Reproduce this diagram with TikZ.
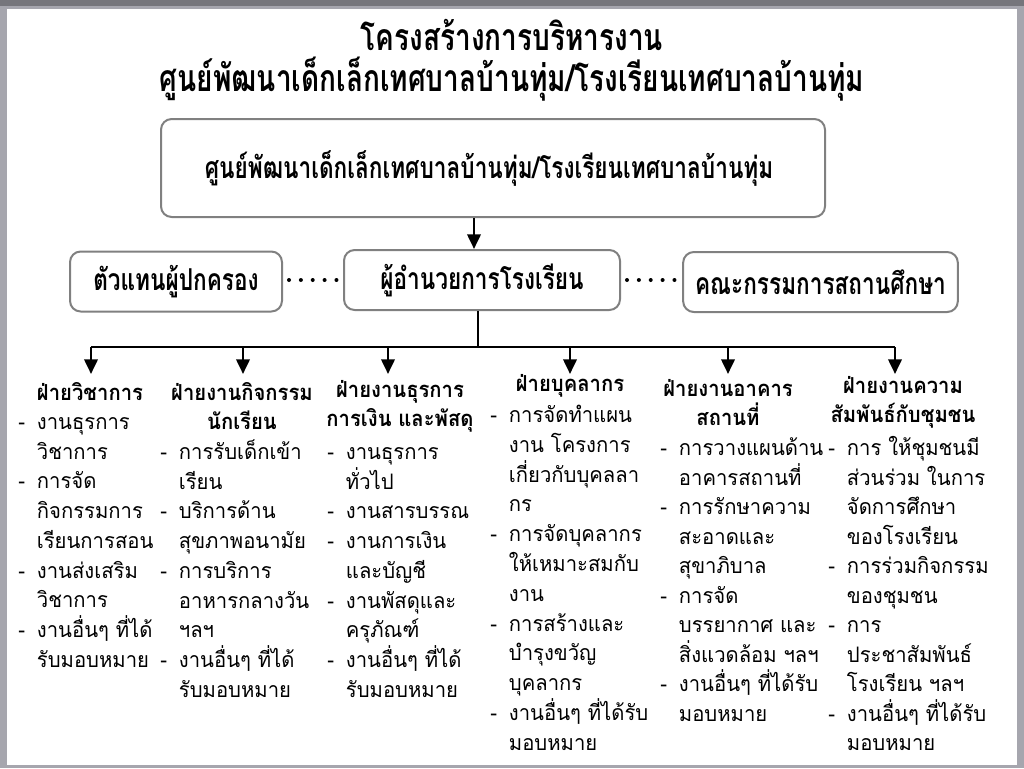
\documentclass[tikz,border=0pt]{standalone}
\usepackage{fontspec}
\usetikzlibrary{arrows.meta}
\newfontfamily\thaifont[Script=Thai,FakeStretch=0.95]{Loma}
\newfontfamily\thaihead[Script=Thai,FakeStretch=0.92]{Loma}
\newfontfamily\thaicond[Script=Thai,FakeStretch=0.75]{Loma}
\definecolor{framegray}{RGB}{166,166,174}
\definecolor{topgray}{RGB}{118,118,124}
\definecolor{boxgray}{RGB}{128,128,128}
\newcommand\dsh{\makebox[14pt][l]{-}}
\newcommand\ind{\hspace*{14pt}}
\begin{document}
\begin{tikzpicture}[x=0.75pt,y=-0.75pt,line join=round,>={Triangle[length=11pt,width=10pt]}]
	\tikzset{box/.style={draw=boxgray,line width=1.5pt,rounded corners=8pt,inner sep=0pt,font=\thaicond\bfseries\fontsize{22.6}{24}\selectfont},
		dots/.style={line width=3pt,line cap=round,dash pattern=on 0pt off 8.9pt},
		head/.style={align=center,inner sep=0pt,font=\thaihead\bfseries\fontsize{16.5}{21.75}\selectfont},
		item/.style={anchor=base west,inner sep=0pt,font=\thaifont\fontsize{16}{20}\selectfont}}
	% slide frame
	\fill[framegray] (0,0) rectangle (1024,768);
	\fill[topgray] (0,0) rectangle (1024,6);
	\fill[white] (7,9) rectangle (1017,765);
	\useasboundingbox (0,0) rectangle (1024,768);
	% title
	\node[align=center,font=\thaicond\bfseries\fontsize{28}{30.5}\selectfont] (title) at (512,60)
		{โครงสร้างการบริหารงาน\\ศูนย์พัฒนาเด็กเล็กเทศบาลบ้านทุ่ม/โรงเรียนเทศบาลบ้านทุ่ม};
	% boxes
	\node[box,minimum width=498pt,minimum height=73.5pt] (top) at (493,168)
		{\hspace*{-6pt}ศูนย์พัฒนาเด็กเล็กเทศบาลบ้านทุ่ม/โรงเรียนเทศบาลบ้านทุ่ม};
	\node[box,minimum width=159pt,minimum height=45pt] (parent) at (176,281.5) {ตัวแทนผู้ปกครอง};
	\node[box,minimum width=207pt,minimum height=45pt] (dir) at (482,280) {ผู้อำนวยการโรงเรียน};
	\node[box,minimum width=206pt,minimum height=45pt] (board) at (820.5,282) {คณะกรรมการสถานศึกษา};
	\draw[line width=2pt,->] ([xshift=-6pt]dir.north |- top.south) -- ([xshift=-6pt]dir.north);
	\draw[dots,shorten >=3pt] ([xshift=4.5pt]parent.east |- dir.west) -- (dir.west);
	\draw[dots,shorten >=2pt] ([xshift=4.5pt]dir.east) -- (board.west |- dir.east);
	% tree
	\draw[line width=2pt] ([xshift=-3pt]dir.south) -- ++(0,36) coordinate (bus);
	\foreach \x/\n in {91/1,243/2,388/3,570/4,728/5,895/6}
		\coordinate (a\n) at (\x,374);
	\draw[line width=2pt] (a1 |- bus) -- (a6 |- bus);
	\foreach \n in {1,...,6}
		\draw[line width=2pt,->] (a\n |- bus) -- (a\n);
	% headers
	\node[head] (h1) at (90,392) {ฝ่ายวิชาการ};
	\node[head] (h2) at (242,406.5) {ฝ่ายงานกิจกรรม\\นักเรียน};
	\node[head] (h3) at (400,406.5) {ฝ่ายงานธุรการ\\การเงิน และพัสดุ};
	\node[head] (h4) at (570,386) {ฝ่ายบุคลากร};
	\node[head] (h5) at (728,402.5) {ฝ่ายงานอาคาร\\สถานที่};
	\node[head] (h6) at (903,402.5) {ฝ่ายงานความ\\สัมพันธ์กับชุมชน};
	% lists
	\foreach \t [count=\i from 0] in {{\dsh งานธุรการ},{\ind วิชาการ},{\dsh การจัด},{\ind กิจกรรมการ},{\ind เรียนการสอน},{\dsh งานส่งเสริม},{\ind วิชาการ},{\dsh งานอื่นๆ ที่ได้},{\ind รับมอบหมาย}}
		\node[item] (c1-\i) at (18,429.5+29.7*\i) {\t};
	\foreach \t [count=\i from 0] in {{\dsh การรับเด็กเข้า},{\ind เรียน},{\dsh บริการด้าน},{\ind สุขภาพอนามัย},{\dsh การบริการ},{\ind อาหารกลางวัน},{\ind ฯลฯ},{\dsh งานอื่นๆ ที่ได้},{\ind รับมอบหมาย}}
		\node[item] (c2-\i) at (160,459.5+29.7*\i) {\t};
	\foreach \t [count=\i from 0] in {{\dsh งานธุรการ},{\ind ทั่วไป},{\dsh งานสารบรรณ},{\dsh งานการเงิน},{\ind และบัญชี},{\dsh งานพัสดุและ},{\ind ครุภัณฑ์},{\dsh งานอื่นๆ ที่ได้},{\ind รับมอบหมาย}}
		\node[item] (c3-\i) at (327,459.5+29.7*\i) {\t};
	\foreach \t [count=\i from 0] in {{\dsh การจัดทำแผน},{\ind งาน โครงการ},{\ind เกี่ยวกับบุคลลา},{\ind กร},{\dsh การจัดบุคลากร},{\ind ให้เหมาะสมกับ},{\ind งาน},{\dsh การสร้างและ},{\ind บำรุงขวัญ},{\ind บุคลากร},{\dsh งานอื่นๆ ที่ได้รับ},{\ind มอบหมาย}}
		\node[item] (c4-\i) at (490,422.5+29.8*\i) {\t};
	\foreach \t [count=\i from 0] in {{\dsh การวางแผนด้าน},{\ind อาคารสถานที่},{\dsh การรักษาความ},{\ind สะอาดและ},{\ind สุขาภิบาล},{\dsh การจัด},{\ind บรรยากาศ และ},{\ind สิ่งแวดล้อม ฯลฯ},{\dsh งานอื่นๆ ที่ได้รับ},{\ind มอบหมาย}}
		\node[item] (c5-\i) at (660,455.5+29.5*\i) {\t};
	\foreach \t [count=\i from 0] in {{\dsh การ ให้ชุมชนมี},{\ind ส่วนร่วม ในการ},{\ind จัดการศึกษา},{\ind ของโรงเรียน},{\dsh การร่วมกิจกรรม},{\ind ของชุมชน},{\dsh การ},{\ind ประชาสัมพันธ์},{\ind โรงเรียน ฯลฯ},{\dsh งานอื่นๆ ที่ได้รับ},{\ind มอบหมาย}}
		\node[item] (c6-\i) at (828,455.5+29.5*\i) {\t};
\end{tikzpicture}
\end{document}
